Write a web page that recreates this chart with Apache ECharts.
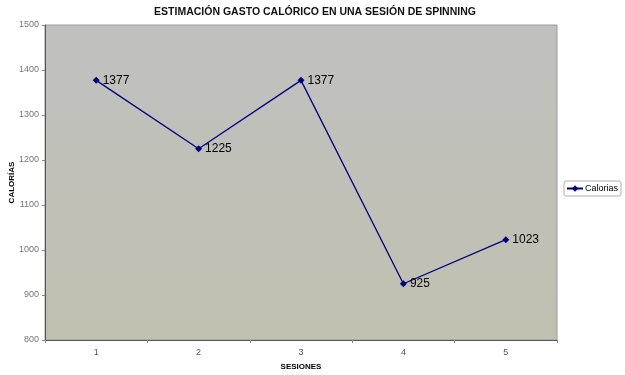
<!DOCTYPE html>
<html><head><meta charset="utf-8">
<script src="https://cdn.jsdelivr.net/npm/echarts@6/dist/echarts.min.js"></script>
<style>html,body{margin:0;padding:0;background:#fff}#c{width:625px;height:375px}</style>
</head><body><div id="c"></div>
<script>
const categories = ['1', '2', '3', '4', '5'];
const calorias = [1377, 1225, 1377, 925, 1023];
const seriesName = 'Calorias';
const titleText = 'ESTIMACIÓN GASTO CALÓRICO EN UNA SESIÓN DE SPINNING';
const xName = 'SESIONES';
const yName = 'CALORÍAS';

const chart = echarts.init(document.getElementById('c'), null, {renderer: 'canvas'});
const font = 'Liberation Sans, Arial, sans-serif';
chart.setOption({
  animation: false,
  backgroundColor: '#ffffff',
  title: {
    text: titleText, left: 310, top: 2, textAlign: 'center',
    textStyle: {fontFamily: font, fontSize: 10.5, fontWeight: 'bold', color: '#111'}
  },
  legend: {
    data: [{name: seriesName}],
    left: 564, top: 181,
    orient: 'vertical',
    borderColor: '#b0b0b0', borderWidth: 1, borderRadius: 2,
    padding: [3, 3, 3, 2],
    itemWidth: 16, itemHeight: 8, itemGap: 2,
    textStyle: {fontFamily: font, fontSize: 9, color: '#000', padding: [0, 0, 0, -3]}
  },
  grid: {
    left: 45, right: 68, top: 25, bottom: 35,
    outerBoundsMode: 'none', containLabel: false,
    show: true, backgroundColor: {
      type: 'linear', x: 0, y: 0, x2: 0, y2: 1,
      colorStops: [{offset: 0, color: '#c0c0c0'}, {offset: 1, color: '#c0c0b0'}]
    },
    borderColor: '#9a9a9a', borderWidth: 1
  },
  xAxis: {
    type: 'category', data: categories, boundaryGap: true,
    name: xName, nameLocation: 'middle', nameGap: 23, nameMoveOverlap: false,
    nameTextStyle: {fontFamily: font, fontSize: 8, fontWeight: 'bold', color: '#000'},
    axisLine: {lineStyle: {color: '#555', width: 1}},
    axisTick: {show: true, length: 3, lineStyle: {color: '#888'}},
    axisLabel: {fontFamily: font, fontSize: 9, color: '#555', margin: 8}
  },
  yAxis: {
    type: 'value', min: 800, max: 1500, interval: 100,
    name: yName, nameLocation: 'middle', nameGap: 29, nameRotate: 90, nameMoveOverlap: false,
    nameTextStyle: {fontFamily: font, fontSize: 8, fontWeight: 'bold', color: '#000'},
    axisLine: {show: true, lineStyle: {color: '#555', width: 1}},
    axisTick: {show: true, length: 3, lineStyle: {color: '#888'}},
    splitLine: {show: false},
    axisLabel: {fontFamily: font, fontSize: 9, color: '#777', margin: 6,
      formatter: function (v) { return String(v); }}
  },
  series: [{
    name: seriesName, type: 'line', data: calorias,
    symbol: 'diamond', symbolSize: 7,
    lineStyle: {color: '#000080', width: 1.3},
    itemStyle: {color: '#000080'},
    label: {show: true, position: 'right', distance: 3,
      fontFamily: font, fontSize: 12, color: '#000'}
  }]
});
</script></body></html>
